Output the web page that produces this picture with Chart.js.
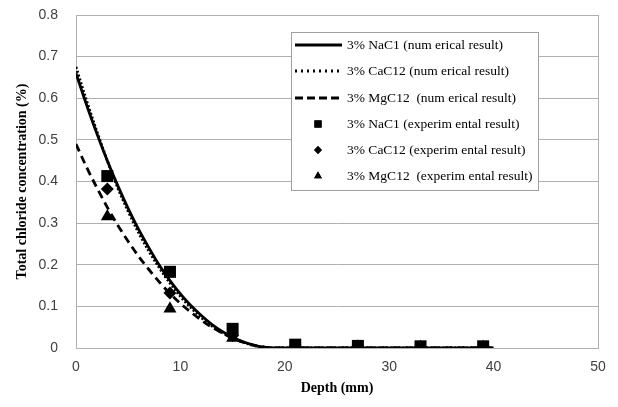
<!DOCTYPE html>
<html>
<head>
<meta charset="utf-8">
<script src="https://cdn.jsdelivr.net/npm/chart.js@4/dist/chart.umd.min.js"></script>
<style>
  html, body { margin: 0; padding: 0; background: #fff; }
  #wrap { width: 618px; height: 407px; }
</style>
</head>
<body>
<div id="wrap"><canvas id="chart" width="618" height="407"></canvas></div>
<script>
// numerical curves, depth in mm
const curveDepth = [0, 1, 2, 3, 4, 5, 6, 7, 8, 9, 10, 11, 12, 13, 14, 15, 16, 17, 18, 19, 40];
const naclNum = [0.660, 0.585, 0.515, 0.450, 0.390, 0.335, 0.285, 0.240, 0.198, 0.162, 0.130, 0.102, 0.078, 0.057, 0.040, 0.026, 0.015, 0.007, 0.002, 0, 0];
const cacl2Num = [0.675, 0.595, 0.520, 0.450, 0.385, 0.328, 0.277, 0.232, 0.192, 0.156, 0.124, 0.097, 0.073, 0.053, 0.037, 0.024, 0.014, 0.006, 0.002, 0, 0];
const mgcl2Num = [0.490, 0.435, 0.385, 0.338, 0.295, 0.256, 0.220, 0.188, 0.158, 0.131, 0.107, 0.086, 0.067, 0.050, 0.036, 0.024, 0.014, 0.007, 0.002, 0, 0];

// experimental points
const expDepth = [3, 9, 15, 21, 27, 33, 39];
const naclExp = [0.413, 0.183, 0.046, 0.008, 0.005, 0.004, 0.004];
const cacl2Exp = [0.382, 0.132, 0.030, 0.005, 0.004, 0.003, 0.003];
const mgcl2Exp = [0.316, 0.094, 0.024, 0.003, 0.003, 0.002, 0.002];

const labels = [
  '3% NaC1 (num erical result)',
  '3% CaC12 (num erical result)',
  '3% MgC12  (num erical result)',
  '3% NaC1 (experim ental result)',
  '3% CaC12 (experim ental result)',
  '3% MgC12  (experim ental result)'
];

const xy = (xs, ys) => xs.map((x, i) => ({ x: x, y: ys[i] }));

function lineSet(label, ys, dash, width) {
  return {
    type: 'line', label: label, data: xy(curveDepth, ys),
    borderColor: '#000', borderWidth: width, borderDash: dash,
    pointRadius: 0, tension: 0.35, cubicInterpolationMode: 'monotone', fill: false
  };
}
function pointSet(label, ys, style, r) {
  return {
    type: 'scatter', label: label, data: xy(expDepth, ys),
    pointStyle: style, pointRadius: r, backgroundColor: '#000', borderColor: '#000',
    borderWidth: 0, showLine: false
  };
}

// dash used for the legend samples (slightly more open than on the curves)
const legendDash = [[], [2, 4], [8, 4]];

// legend drawn inside the plot with a box, like the original
const boxLegend = {
  id: 'boxLegend',
  afterDraw(chart) {
    const ctx = chart.ctx;
    const left = 291, top = 32, right = 538, bottom = 190;
    ctx.save();
    ctx.fillStyle = '#fff';
    ctx.fillRect(left, top, right - left, bottom - top);
    ctx.strokeStyle = '#a0a0a0';
    ctx.lineWidth = 1;
    ctx.strokeRect(left + 0.5, top + 0.5, right - left, bottom - top);
    const rows = [45, 71, 98, 124, 150, 176];
    chart.data.datasets.forEach((ds, i) => {
      const y = rows[i];
      ctx.strokeStyle = '#000';
      ctx.fillStyle = '#000';
      if (ds.type === 'line') {
        ctx.lineWidth = 3;
        ctx.setLineDash(legendDash[i]);
        ctx.beginPath();
        ctx.moveTo(295, y);
        ctx.lineTo(342, y);
        ctx.stroke();
        ctx.setLineDash([]);
      } else {
        Chart.helpers.drawPoint(ctx, { pointStyle: ds.pointStyle, radius: ds.pointRadius * 0.6, borderWidth: 0 }, 318, y);
        ctx.fill();
      }
      ctx.font = '13.5px "Liberation Serif", serif';
      ctx.textBaseline = 'middle';
      ctx.textAlign = 'left';
      ctx.fillText(ds.label, 347, y);
    });
    ctx.restore();
  }
};

const frame = {
  id: 'frame',
  beforeDatasetsDraw(chart) {
    const a = chart.chartArea, ctx = chart.ctx;
    ctx.save();
    ctx.strokeStyle = '#b0b0b0';
    ctx.lineWidth = 1;
    ctx.strokeRect(Math.round(a.left) + 0.5, Math.round(a.top) + 0.5, Math.round(a.right - a.left), Math.round(a.bottom - a.top));
    ctx.restore();
  }
};

new Chart(document.getElementById('chart'), {
  data: {
    datasets: [
      lineSet(labels[0], naclNum, [], 2.8),
      lineSet(labels[1], cacl2Num, [2, 2], 2.8),
      lineSet(labels[2], mgcl2Num, [8, 5], 2.8),
      pointSet(labels[3], naclExp, 'rect', 8.5),
      pointSet(labels[4], cacl2Exp, 'rectRot', 6.5),
      pointSet(labels[5], mgcl2Exp, 'triangle', 7.5)
    ]
  },
  options: {
    responsive: false,
    animation: false,
    layout: { padding: { top: 15, right: 20, left: 0, bottom: 0 } },
    plugins: { legend: { display: false }, tooltip: { enabled: false } },
    scales: {
      x: {
        type: 'linear', min: 0, max: 50,
        ticks: { stepSize: 10, color: '#404040', font: { family: '"Liberation Sans", Arial, sans-serif', size: 14 }, padding: 11 },
        grid: { display: false, drawTicks: false },
        border: { color: '#b0b0b0' },
        title: { display: true, text: 'Depth (mm)', color: '#000', font: { family: '"Liberation Serif", serif', size: 14, weight: 'bold' }, padding: { top: 4, bottom: 10 } },
        afterFit(s) { s.height = 59; }
      },
      y: {
        min: 0, max: 0.8,
        ticks: { stepSize: 0.1, color: '#404040', font: { family: '"Liberation Sans", Arial, sans-serif', size: 14 }, padding: 6,
          callback: v => (Math.round(v * 10) / 10).toString() },
        grid: { color: '#b0b0b0', drawTicks: true, tickLength: 12, tickColor: 'rgba(0,0,0,0)' },
        border: { color: '#b0b0b0' },
        title: { display: true, text: 'Total chloride concentration (%)', color: '#000', font: { family: '"Liberation Serif", serif', size: 14, weight: 'bold' }, padding: { top: 14, bottom: 0 } },
        afterFit(s) { s.width = 76; }
      }
    }
  },
  plugins: [frame, boxLegend]
});
</script>
</body>
</html>
